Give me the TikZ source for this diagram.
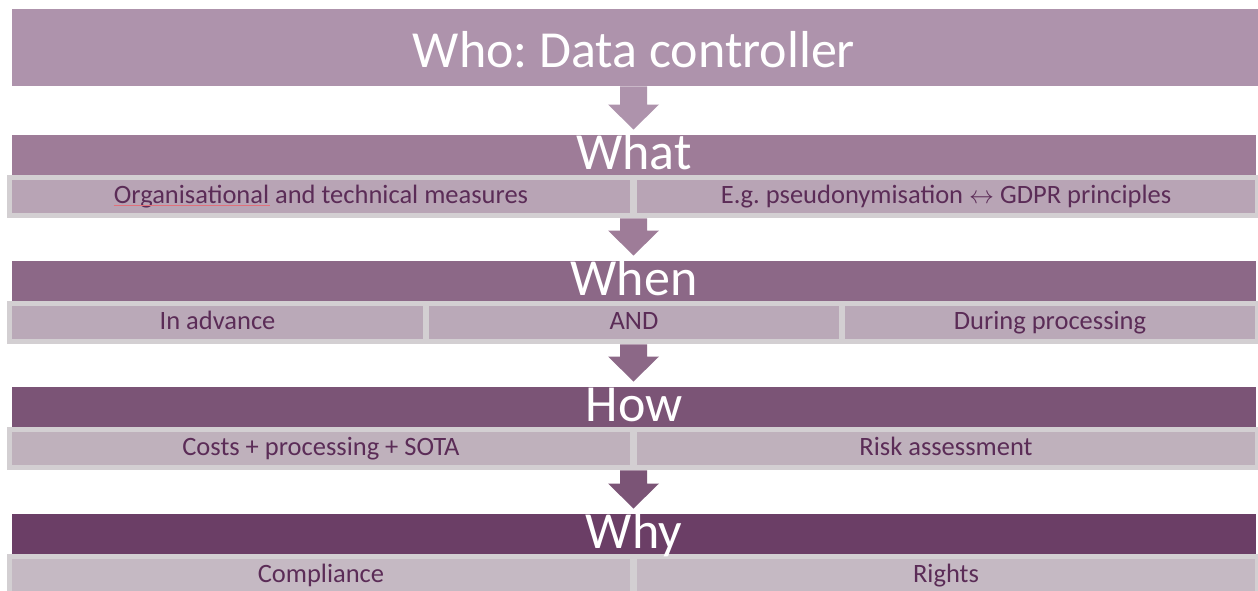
\documentclass[tikz,border=0pt]{standalone}
\usepackage{fontspec}
\setmainfont{Carlito}
\usetikzlibrary{calc}
\frenchspacing
\definecolor{cwho}{HTML}{AE93AC}
\definecolor{cwhat}{HTML}{9E7C98}
\definecolor{cwhen}{HTML}{8C6887}
\definecolor{chow}{HTML}{7B5476}
\definecolor{cwhy}{HTML}{6B3E66}
\definecolor{cellA}{HTML}{B8A4B5}
\definecolor{cellB}{HTML}{BAA9B8}
\definecolor{cellC}{HTML}{BFB1BC}
\definecolor{cellD}{HTML}{C5B9C3}
\definecolor{rim}{HTML}{D3CFD2}
\definecolor{ctext}{HTML}{5B2C57}
\definecolor{squig}{HTML}{E0707A}
\newcommand\flowarrow[3]{%
  \fill[#3] ($(#1.south -| ax)+(-13.5,0)$) -- ($(#2.north -| ax)+(-13.5,-30.5)$)
   -- ($(#2.north -| ax)+(-25.5,-30.5)$) -- ($(#2.north -| ax)+(0,-5.5)$)
   -- ($(#2.north -| ax)+(25.5,-30.5)$) -- ($(#2.north -| ax)+(13.5,-30.5)$)
   -- ($(#1.south -| ax)+(13.5,0)$) -- cycle;}
\begin{document}
\frenchspacing
\begin{tikzpicture}[x=1pt,y=-1pt,
  bar/.style={fill=#1, draw=none, inner sep=0pt, anchor=north west, minimum width=1244pt, minimum height=40pt},
  rimbox/.style={fill=rim, draw=none, inner sep=0pt, anchor=north west, minimum width=1251pt, minimum height=43pt},
  cellbox/.style={fill=#1, draw=none, inner sep=0pt, anchor=north west, minimum height=33pt},
  celltext/.style={text=ctext, font=\fontsize{26.5}{30}\selectfont\frenchspacing, anchor=base, inner sep=0pt},
  headtext/.style={text=white, font=\fontsize{52}{60}\selectfont\frenchspacing, anchor=base, inner sep=0pt}
]
\useasboundingbox (0,0) rectangle (1258,590);
\fill[white] (0,0) rectangle (1258,590);
\coordinate (ax) at (633.5,0);

% Who
\node[fill=cwho, draw=none, inner sep=0pt, anchor=north west, minimum width=1246pt, minimum height=77pt] (who) at (12,9) {};

% What
\node[bar=cwhat] (what) at (12,135) {};
\node[rimbox] (whatrim) at (7,175) {};
\node[cellbox=cellA, minimum width=618pt] (whatA) at (12,180) {};
\node[cellbox=cellA, minimum width=618pt] (whatB) at (637,180) {};

% When
\node[bar=cwhen] (when) at (12,261) {};
\node[rimbox] (whenrim) at (7,301) {};
\node[cellbox=cellB, minimum width=411pt] (whenA) at (12,306) {};
\node[cellbox=cellB, minimum width=410pt] (whenB) at (429,306) {};
\node[cellbox=cellB, minimum width=410pt] (whenC) at (845,306) {};

% How
\node[bar=chow] (how) at (12,387) {};
\node[rimbox] (howrim) at (7,427) {};
\node[cellbox=cellC, minimum width=618pt] (howA) at (12,432) {};
\node[cellbox=cellC, minimum width=618pt] (howB) at (637,432) {};

% Why
\node[bar=cwhy] (why) at (12,514) {};
\node[rimbox] (whyrim) at (7,554) {};
\node[cellbox=cellD, minimum width=618pt] (whyA) at (12,559) {};
\node[cellbox=cellD, minimum width=618pt] (whyB) at (637,559) {};

% arrows
\flowarrow{who}{what}{cwho}
\flowarrow{whatrim}{when}{cwhat}
\flowarrow{whenrim}{how}{cwhen}
\flowarrow{howrim}{why}{chow}

% texts
\node[headtext] (twho) at (634,67) {Who: Data controller};
\node[headtext] (twhat) at (634,169) {What};
\node[headtext] (twhen) at (634,295) {When};
\node[headtext] (thow) at (634,421) {How};
\node[headtext] (twhy) at (634,548) {Why};

\node[celltext] (tA1) at (321,203) {Organisational and technical measures};
\node[celltext] (tA2) at (946,203) {E.g. pseudonymisation $\leftrightarrow$ GDPR principles};
\node[celltext] (tB1) at (217.5,329) {In advance};
\node[celltext] (tB2) at (634,329) {AND};
\node[celltext] (tB3) at (1050,329) {During processing};
\node[celltext] (tC1) at (321,455) {Costs + processing + SOTA};
\node[celltext] (tC2) at (946,455) {Risk assessment};
\node[celltext] (tD1) at (321,582) {Compliance};
\node[celltext] (tD2) at (946,582) {Rights};

\draw[squig, line width=0.8pt] (tA1.base west) ++(0,2) -- ++(156,0);
\end{tikzpicture}
\end{document}
